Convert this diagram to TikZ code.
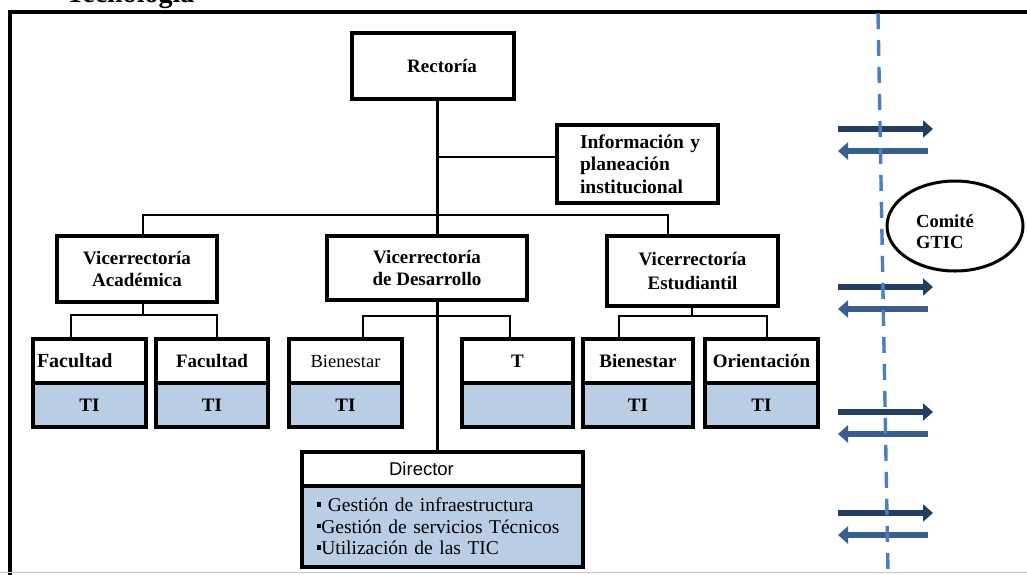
\documentclass[tikz,border=0pt]{standalone}
\usepackage{fontspec}
\setmainfont{Liberation Serif}
\newfontfamily\arialf{Liberation Sans}
\usetikzlibrary{arrows.meta,shapes.geometric}
\pgfdeclarelayer{background}
\pgfsetlayers{background,main}
\definecolor{tiblue}{RGB}{185,205,229}
\definecolor{dashblue}{RGB}{74,126,193}
\definecolor{navyA}{RGB}{36,62,98}
\definecolor{navyB}{RGB}{58,94,140}
\newcommand{\bulletsq}{\rule[0.26em]{0.22em}{0.22em}}
\tikzset{
  orgbox/.style={draw=black, fill=white, line width=3.2pt, inner sep=0pt, align=center,
    font=\fontsize{19}{22}\selectfont\bfseries},
  tibox/.style={orgbox, fill=tiblue},
  subtop/.style={orgbox, minimum height=44pt},
  subti/.style={tibox, minimum height=44pt},
  link/.style={line width=2.7pt},
  frameline/.style={line width=3.8pt},
  toright/.style={navyA, line width=6.5pt, -{Triangle[length=10pt,width=17pt]}},
  toleft/.style={navyB, line width=6.5pt, -{Triangle[length=10pt,width=17pt]}},
  dashline/.style={dashblue, line width=3.4pt, dash pattern=on 16pt off 11pt},
  gticbox/.style={draw=black, line width=3pt, ellipse, minimum width=136pt, minimum height=90pt},
}
\begin{document}
\begin{tikzpicture}[x=1pt,y=-1pt]
\useasboundingbox (0,0) rectangle (1027,574);

% heading above the frame (mostly outside the page)
\node[anchor=base west, inner sep=0pt, font=\fontsize{28}{30}\selectfont\bfseries] (heading) at (66,2.5) {Tecnología};

% outer frame
\draw[frameline] (10,580) -- (10,12) -- (1035,12);
\draw[gray!45, line width=1pt] (0,572.5) -- (1027,572.5);

% junction positions
\coordinate (xt) at (437.5,0);
\coordinate (xa) at (143,0);
\coordinate (xe) at (668,0);
\coordinate (xs) at (692,0);
\coordinate (yi) at (0,157);
\coordinate (yb) at (0,215);
\coordinate (y2a) at (0,315);
\coordinate (y2d) at (0,316);
\coordinate (y2s) at (0,316);

% top level
\node[orgbox, minimum width=162pt, minimum height=66pt] (rect) at (433,66) {\hspace*{18pt}Rectoría};
\node[orgbox, minimum width=161pt, minimum height=78pt, text width=127pt, inner xsep=17pt, align=left,
  font=\fontsize{19.5}{22.5}\selectfont\bfseries] (info) at (637.5,164)
  {\hspace*{6pt}Información y\\\hspace*{6pt}planeación\\\hspace*{6pt}institucional};

% vice-rectorates
\node[orgbox, minimum width=160pt, minimum height=66pt] (acad) at (137,269) {Vicerrectoría\\Académica};
\node[orgbox, minimum width=200pt, minimum height=64pt] (des) at (427,268) {Vicerrectoría\\de Desarrollo};
\node[orgbox, minimum width=171pt, minimum height=70pt, font=\fontsize{19}{24}\selectfont\bfseries] (est) at (692.5,271) {Vicerrectoría\\Estudiantil};

% units with their IT sections
\node[subtop, minimum width=113pt, text width=105pt, align=left, inner xsep=4pt,
  font=\fontsize{20}{22}\selectfont\bfseries] (fac1) at (89.5,361) {Facultad};
\node[subti, minimum width=113pt] (fac1ti) at (89.5,405) {TI};
\node[subtop, minimum width=112pt] (fac2) at (212,361) {Facultad};
\node[subti, minimum width=112pt] (fac2ti) at (212,405) {TI};
\node[subtop, minimum width=113pt, font=\fontsize{18.5}{22}\selectfont] (bien1) at (345.5,361) {Bienestar};
\node[subti, minimum width=113pt] (bien1ti) at (345.5,405) {TI};
\node[subtop, minimum width=111pt] (tec) at (517.5,361) {T};
\node[subti, minimum width=111pt] (tecti) at (517.5,405) {};
\node[subtop, minimum width=110pt] (bien2) at (638,361) {Bienestar};
\node[subti, minimum width=110pt] (bien2ti) at (638,405) {TI};
\node[subtop, minimum width=113pt] (ori) at (761.5,361) {Orientación};
\node[subti, minimum width=113pt] (oriti) at (761.5,405) {TI};

% director of IT
\node[orgbox, minimum width=281pt, minimum height=34pt, font=\arialf\fontsize{18.5}{22}\selectfont] (dir) at (442.5,469)
  {Director\hspace*{42pt}};
\node[tibox, minimum width=281pt, minimum height=81pt, text width=251pt, align=left, inner xsep=15pt,
  font=\fontsize{19.5}{21.5}\selectfont] (dirtasks) at (442.5,526.5)
  {\bulletsq\ Gestión de infraestructura\\\bulletsq Gestión de servicios Técnicos\\\bulletsq Utilización de las TIC};

% connectors, behind the boxes
\begin{pgfonlayer}{background}
\draw[link] (rect.south -| xt) -- (des.north -| xt);
\draw[link] (xt |- yi) -- (info.west |- yi);
\draw[link] (acad.north -| xa) |- (yb -| xe) -- (est.north -| xe);
\draw[link] (acad.south -| xa) -- (xa |- y2a);
\draw[link] (fac1.north -| 71,0) |- (y2a -| 217,0) -- (fac2.north -| 217,0);
\draw[link] (des.south -| xt) -- (dir.north -| xt);
\draw[link] (bien1.north -| 363,0) |- (y2d -| 510,0) -- (tec.north -| 510,0);
\draw[link] (est.south -| xs) -- (xs |- y2s);
\draw[link] (bien2.north -| 619,0) |- (y2s -| 767,0) -- (ori.north -| 767,0);
\end{pgfonlayer}

% exchange arrows across the boundary
\foreach \y in {129,287,412,513} {
  \draw[toright] (838,\y) -- (933,\y);
  \draw[toleft] (928,\y+22) -- (838,\y+22);
}

% boundary line
\draw[dashline] (878,13) -- (888,572);

% committee
\node[gticbox] (gtic) at (955,226) {};
\node[anchor=west, align=left, inner sep=0pt, font=\fontsize{18.5}{21}\selectfont\bfseries] (gticlbl) at (916,232) {Comité\\GTIC};
\end{tikzpicture}
\end{document}
